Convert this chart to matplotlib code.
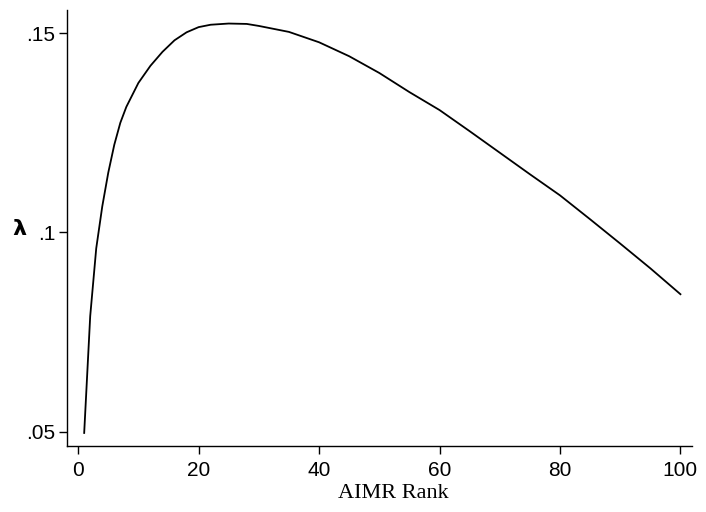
import matplotlib
matplotlib.use("Agg")
import matplotlib.pyplot as plt

# lambda by AIMR rank
rango = [1, 2, 3, 4, 5, 6, 7, 8, 10, 12, 14, 16, 18, 20, 22, 25, 28, 30,
         35, 40, 45, 50, 55, 60, 65, 70, 75, 80, 85, 90, 95, 100]
lam = [0.0497, 0.0790, 0.0960, 0.1065, 0.1150, 0.1220, 0.1275, 0.1315,
       0.1375, 0.1418, 0.1453, 0.1482, 0.1502, 0.1515, 0.1521, 0.1524,
       0.1523, 0.1518, 0.1503, 0.1477, 0.1442, 0.1400, 0.1352, 0.1307,
       0.1254, 0.1200, 0.1146, 0.1093, 0.1033, 0.0972, 0.0910, 0.0845]

xticks = [0, 20, 40, 60, 80, 100]
yticks = [0.05, 0.10, 0.15]
ylabels = [".05", ".1", ".15"]

fig = plt.figure(figsize=(7.06, 5.12), dpi=100)
ax = fig.add_axes([0.0945, 0.1295, 0.8855, 0.851])

ax.plot(rango, lam, color="black", linewidth=1.3)

ax.set_xlim(-1.9, 101.9)
ax.set_ylim(0.0465, 0.1558)
ax.set_xticks(xticks)
ax.set_xticklabels([str(t) for t in xticks], family="Liberation Sans", fontsize=15)
ax.set_yticks(yticks)
ax.set_yticklabels(ylabels, family="Liberation Sans", fontsize=15)
ax.tick_params(direction="out", length=6, width=1.0, colors="black")
ax.tick_params(axis="x", pad=5)
ax.tick_params(axis="y", pad=2)

for lado in ["top", "right"]:
    ax.spines[lado].set_visible(False)
for lado in ["left", "bottom"]:
    ax.spines[lado].set_linewidth(1.0)

ax.set_xlabel("AIMR Rank", family="Liberation Serif", fontsize=16)
ax.xaxis.set_label_coords(0.522, -0.088)
ax.set_ylabel("λ", rotation=0, family="DejaVu Sans", fontsize=16,
              fontweight="bold", va="center", ha="center")
ax.yaxis.set_label_coords(-0.075, 0.497)

plt.savefig("out.png", dpi=100)
